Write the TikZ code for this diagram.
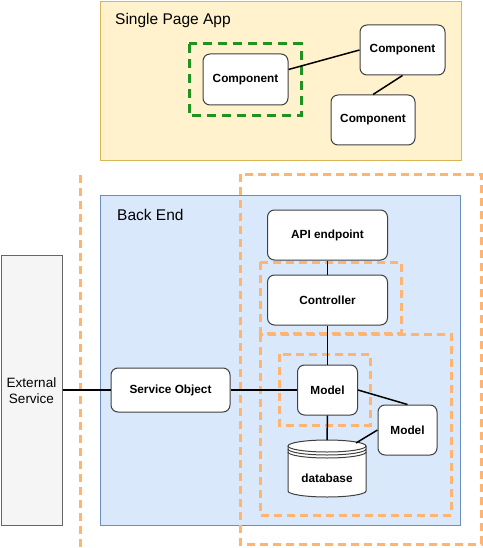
\documentclass[tikz,border=0pt]{standalone}
\usepackage{fontspec}
\setmainfont{Liberation Sans}
\usetikzlibrary{calc}
\definecolor{spafill}{HTML}{FFF2CC}
\definecolor{spaline}{HTML}{D6B656}
\definecolor{befill}{HTML}{DAE8FC}
\definecolor{beline}{HTML}{6C8EBF}
\definecolor{orng}{HTML}{FFB570}
\definecolor{grn}{HTML}{1F931F}
\definecolor{extfill}{HTML}{F5F5F5}
\definecolor{extline}{HTML}{666666}
\begin{document}
\begin{tikzpicture}[x=1pt,y=-1pt,
  comp/.style={draw=black!75, fill=white, rounded corners=7pt, line width=1pt,
    font=\bfseries\fontsize{11.8}{14}\selectfont, inner sep=0pt},
  container/.style={line width=1pt, inner sep=0pt, anchor=north west},
  odash/.style={draw=orng, line width=3pt, dash pattern=on 8pt off 5pt},
  gdash/.style={draw=grn, line width=3pt, dash pattern=on 9pt off 6pt},
  conn/.style={draw=black, line width=1.5pt},
  title/.style={font=\fontsize{15.5}{18}\selectfont, anchor=west, inner sep=0pt}]
\useasboundingbox (0,0) rectangle (482,548);

% containers
\node[container, draw=spaline, fill=spafill, minimum width=361pt, minimum height=159pt] (spa) at (100,1) {};
\node[title] (spatitle) at (115,20) {Single Page App};
\node[container, draw=beline, fill=befill, minimum width=360pt, minimum height=330pt] (be) at (100,195) {};
\node[title] (betitle) at (117,215) {Back End};
\node[container, draw=extline, fill=extfill, minimum width=61pt, minimum height=270pt,
  align=center, font=\fontsize{13.5}{15.7}\selectfont] (ext) at (0.5,255) {External\\Service};

% dashed groupings
\draw[gdash] (189,44) rectangle (301,116);
\draw[odash] (80,175) -- (80,548);
\draw[odash] (240,174) rectangle (481,544);
\draw[odash] (260,262) rectangle (401,333);
\draw[odash] (260,334) rectangle (451,515);
\draw[odash] (279,354) rectangle (370,425);

% SPA components
\node[comp, minimum width=85pt, minimum height=51pt] (c1) at (245.5,79.5) {Component};
\node[comp, minimum width=85pt, minimum height=50pt] (c2) at (402.5,50) {Component};
\node[comp, minimum width=84pt, minimum height=50pt] (c3) at (373,120) {Component};

% back end nodes
\node[comp, minimum width=120pt, minimum height=50pt] (api) at (327.5,235) {API endpoint};
\node[comp, minimum width=120pt, minimum height=50pt] (ctrl) at (327.5,300) {Controller};
\node[comp, minimum width=60pt, minimum height=50pt] (m1) at (327.5,390) {Model};
\node[comp, minimum width=59pt, minimum height=50pt] (m2) at (407.5,430) {Model};
\node[comp, minimum width=119pt, minimum height=44pt] (so) at (170.5,390) {Service Object};

% database cylinder
\coordinate (dbtop) at (327,440);
\coordinate (dbconn) at (356,443);
\draw[black!75, fill=white, line width=1pt]
  (288,446) -- (288,491) arc[start angle=180, end angle=360, x radius=39pt, y radius=6pt]
  -- (366,446) arc[start angle=0, end angle=180, x radius=39pt, y radius=6pt] -- cycle;
\draw[black!75, line width=1pt] (288,446) arc[start angle=180, end angle=360, x radius=39pt, y radius=6pt];
\draw[black!75, line width=1pt] (288,449) arc[start angle=180, end angle=360, x radius=39pt, y radius=6pt];
\draw[black!75, line width=1pt] (288,452) arc[start angle=180, end angle=360, x radius=39pt, y radius=6pt];
\node[font=\bfseries\fontsize{11.8}{14}\selectfont, inner sep=0pt] (db) at (327,478) {database};

% connectors
\draw[conn] ([yshift=10pt]c1.east) -- (c2.west);
\draw[conn] (c2.south) -- (c3.north);
\draw[conn] (ext.east |- so.west) -- (so.west);
\draw[conn] (so.east) -- (m1.west);
\draw[conn] (api.south) -- (ctrl.north);
\draw[conn] (ctrl.south) -- (m1.north);
\draw[conn] (m1.south) -- (dbtop);
\draw[conn] (m1.east) -- (m2.north);
\draw[conn] (dbconn) -- (m2.west);
\end{tikzpicture}
\end{document}
